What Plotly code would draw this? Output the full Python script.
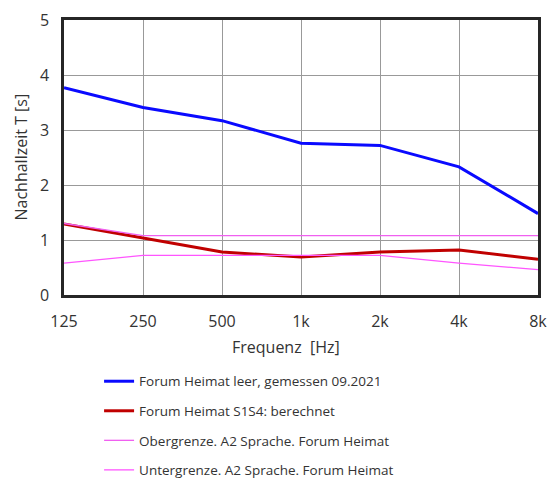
import plotly.graph_objects as go

freqs = [125, 250, 500, 1000, 2000, 4000, 8000]
tick_labels = ["125", "250", "500", "1k", "2k", "4k", "8k"]
gemessen = [3.77, 3.41, 3.17, 2.76, 2.72, 2.33, 1.48]
berechnet = [1.29, 1.04, 0.78, 0.69, 0.78, 0.82, 0.65]
obergrenze = [1.30, 1.08, 1.08, 1.08, 1.08, 1.08, 1.08]
untergrenze = [0.58, 0.72, 0.72, 0.72, 0.72, 0.58, 0.46]

names = ["Forum Heimat leer, gemessen 09.2021",
         "Forum Heimat S1S4: berechnet",
         "Obergrenze. A2 Sprache. Forum Heimat",
         "Untergrenze. A2 Sprache. Forum Heimat"]

font = "Open Sans, Noto Sans, sans-serif"
fig = go.Figure()
series = [(gemessen, "#0a0aff", 3), (berechnet, "#c00000", 3),
          (obergrenze, "#f060f0", 1.3), (untergrenze, "#ff55ff", 1.3)]
for i, (vals, col, w) in enumerate(series):
    fig.add_trace(go.Scatter(x=freqs, y=vals, mode="lines", name=names[i],
                             legendgroup=f"g{i}",
                             line=dict(color=col, width=w)))

fig.update_layout(
    width=550, height=479,
    margin=dict(l=64, r=12, t=20, b=184, autoexpand=False),
    paper_bgcolor="white", plot_bgcolor="white",
    font=dict(family=font, color="#333333", size=16),
    showlegend=True,
    legend=dict(x=0.074, y=-0.258, xanchor="left", yanchor="top",
                font=dict(size=13.5, color="#333333"),
                tracegroupgap=9, itemwidth=30, bgcolor="rgba(0,0,0,0)"),
    xaxis=dict(type="log", range=[2.0969, 3.9031], tickvals=freqs, ticktext=tick_labels,
               showgrid=True, gridcolor="#999999", gridwidth=1,
               showline=True, linecolor="#262626", linewidth=2.5, mirror=True,
               ticks="", ticklabelstandoff=10, tickfont=dict(size=16), zeroline=False),
    yaxis=dict(range=[0, 5], dtick=1, showgrid=True, gridcolor="#999999", gridwidth=1,
               showline=True, linecolor="#262626", linewidth=2.5, mirror=True,
               ticks="", ticklabelstandoff=9, tickfont=dict(size=16), zeroline=False),
    annotations=[
        dict(text="Frequenz  [Hz]", x=(286 - 64) / 474, xref="paper",
             y=-0.189, yref="paper", yanchor="middle", showarrow=False,
             font=dict(size=16)),
        dict(text="Nachhallzeit T [s]", x=(20 - 64) / 474, xref="paper",
             xanchor="center", y=0.5, yref="paper", yanchor="middle",
             textangle=-90, showarrow=False, font=dict(size=16)),
    ],
)
fig.write_html("out.html")
